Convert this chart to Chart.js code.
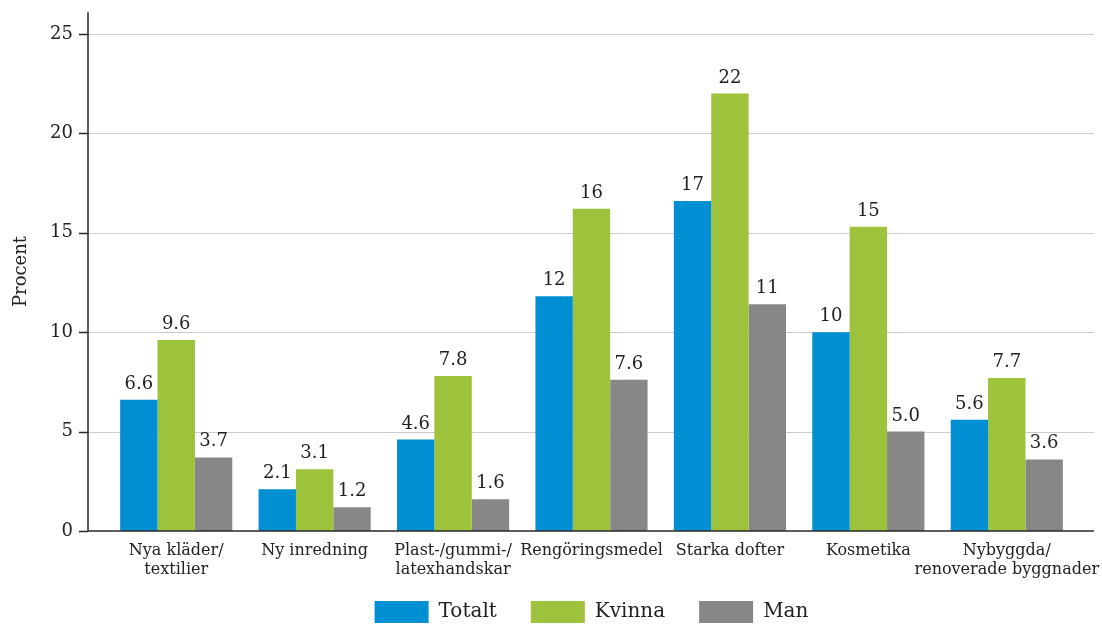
<!DOCTYPE html>
<html>
<head>
<meta charset="utf-8">
<script src="https://cdn.jsdelivr.net/npm/chart.js@4.4.1/dist/chart.umd.min.js"></script>
<style>
  html, body { margin: 0; padding: 0; background: #fff; }
  #wrap { width: 1102px; height: 624px; }
</style>
</head>
<body>
<div id="wrap"><canvas id="chart"></canvas></div>
<script>
// Categories (multi-line labels as arrays)
const categories = [
    ['Nya kläder/', 'textilier'],
    'Ny inredning',
    ['Plast-/gummi-/', 'latexhandskar'],
    'Rengöringsmedel',
    'Starka dofter',
    'Kosmetika',
    ['Nybyggda/', 'renoverade byggnader']
];
const totalt = [6.6, 2.1, 4.6, 11.8, 16.6, 10.0, 5.6];
const kvinna = [9.6, 3.1, 7.8, 16.2, 22.0, 15.3, 7.7];
const man = [3.7, 1.2, 1.6, 7.6, 11.4, 5.0, 3.6];
const yTicks = [0, 5, 10, 15, 20, 25];

Chart.defaults.font.family = "'DejaVu Serif', serif";
Chart.defaults.color = '#222';

// format like the original: two significant digits
function fmt(v) {
    return v >= 10 ? String(Math.round(v)) : v.toFixed(1);
}

// grid lines + axes drawn a bit wider than the plot area
const axisLines = {
    id: 'axisLines',
    afterLayout(chart) {
        // let the two-line category labels show below the (short) x axis box
        const x = chart.scales.x;
        x.bottom = x.top + 60;
    },
    beforeDatasetsDraw(chart) {
        const { ctx, chartArea: a, scales: { y } } = chart;
        const x0 = a.left - 19, x1 = a.right + 18;
        ctx.save();
        ctx.strokeStyle = '#cccccc';
        ctx.lineWidth = 1;
        yTicks.forEach(t => {
            if (t === 0) return;
            const py = Math.round(y.getPixelForValue(t)) + 0.5;
            ctx.beginPath();
            ctx.moveTo(x0, py);
            ctx.lineTo(x1, py);
            ctx.stroke();
        });
        ctx.restore();
    },
    afterDatasetsDraw(chart) {
        const { ctx, chartArea: a, scales: { y } } = chart;
        const x0 = a.left - 19, x1 = a.right + 18;
        ctx.save();
        ctx.strokeStyle = '#2a2a2a';
        ctx.lineWidth = 1.5;
        ctx.beginPath();
        ctx.moveTo(x0, a.top);
        ctx.lineTo(x0, a.bottom);
        ctx.lineTo(x1, a.bottom);
        ctx.stroke();
        yTicks.forEach(t => {
            const py = Math.round(y.getPixelForValue(t)) + 0.5;
            ctx.beginPath();
            ctx.moveTo(x0 - 9, py);
            ctx.lineTo(x0, py);
            ctx.stroke();
        });
        ctx.restore();
    }
};

// value labels above bars
const valueLabels = {
    id: 'valueLabels',
    afterDatasetsDraw(chart) {
        const { ctx } = chart;
        ctx.save();
        ctx.font = "18px 'DejaVu Serif', serif";
        ctx.fillStyle = '#222';
        ctx.textAlign = 'center';
        ctx.textBaseline = 'alphabetic';
        chart.data.datasets.forEach((ds, i) => {
            chart.getDatasetMeta(i).data.forEach((bar, j) => {
                ctx.fillText(fmt(ds.data[j]), bar.x, bar.y - 11);
            });
        });
        ctx.restore();
    }
};

new Chart(document.getElementById('chart').getContext('2d'), {
    type: 'bar',
    data: {
        labels: categories,
        datasets: [
            { label: 'Totalt', data: totalt, backgroundColor: '#008fd3' },
            { label: 'Kvinna', data: kvinna, backgroundColor: '#9cc33b' },
            { label: 'Man', data: man, backgroundColor: '#878787' }
        ]
    },
    options: {
        responsive: true,
        maintainAspectRatio: false,
        animation: false,
        datasets: {
            bar: { categoryPercentage: 0.81, barPercentage: 1.0, borderWidth: 0 }
        },
        layout: { padding: { left: 0, right: 26, top: 12, bottom: -9 } },
        plugins: {
            tooltip: { enabled: false },
            legend: {
                position: 'bottom',
                fullSize: false,
                labels: {
                    boxWidth: 54,
                    boxHeight: 22,
                    padding: 34,
                    color: '#222',
                    font: { size: 20 }
                }
            }
        },
        scales: {
            x: {
                grid: { display: false, drawTicks: true, tickLength: 10 },
                border: { display: false },
                ticks: { padding: 0, color: '#222', font: { size: 16, lineHeight: 1.2 }, maxRotation: 0, autoSkip: false },
                afterFit: s => { s.height = 36; }
            },
            y: {
                min: 0,
                max: 26.1,
                grid: { display: false, drawTicks: true, tickLength: 34 },
                border: { display: false },
                ticks: { padding: 0, color: '#222', font: { size: 18 } },
                afterBuildTicks: s => { s.ticks = yTicks.map(v => ({ value: v })); },
                afterFit: s => { s.width = 107; },
                title: {
                    display: true,
                    text: 'Procent',
                    color: '#222',
                    font: { size: 18 },
                    padding: { top: 11, bottom: 0 }
                }
            }
        }
    },
    plugins: [axisLines, valueLabels]
});
</script>
</body>
</html>
